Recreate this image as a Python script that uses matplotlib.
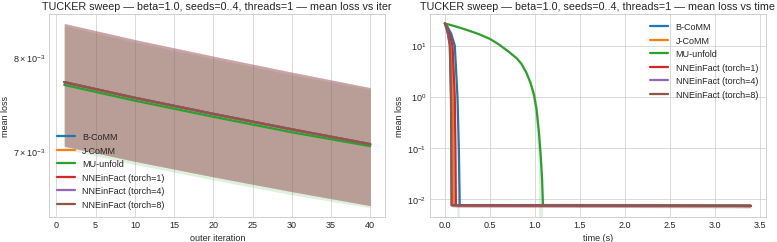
import matplotlib
matplotlib.use("Agg")
import matplotlib.pyplot as plt
import numpy as np

# ------ Data ------
names = ['B-CoMM', 'J-CoMM', 'MU-unfold',
         'NNEinFact (torch=1)', 'NNEinFact (torch=4)', 'NNEinFact (torch=8)']
colors = ['#1f77b4', '#ff7f0e', '#2ca02c', '#d62728', '#9467bd', '#8c564b']

# loss vs outer iteration (mean, std over seeds)
iters = [1, 10, 20, 30, 40]
iter_mean = {
    'B-CoMM':              [7.72e-3, 7.55e-3, 7.38e-3, 7.22e-3, 7.07e-3],
    'J-CoMM':              [7.72e-3, 7.55e-3, 7.38e-3, 7.22e-3, 7.07e-3],
    'MU-unfold':           [7.69e-3, 7.52e-3, 7.35e-3, 7.19e-3, 7.05e-3],
    'NNEinFact (torch=1)': [7.72e-3, 7.55e-3, 7.38e-3, 7.22e-3, 7.07e-3],
    'NNEinFact (torch=4)': [7.72e-3, 7.55e-3, 7.38e-3, 7.22e-3, 7.07e-3],
    'NNEinFact (torch=8)': [7.72e-3, 7.55e-3, 7.38e-3, 7.22e-3, 7.07e-3],
}
iter_std = [0.67e-3, 0.65e-3, 0.63e-3, 0.61e-3, 0.59e-3]

# loss vs wall time (mean, std over seeds)
time_t = {
    'B-CoMM':              [0, 0.03, 0.07, 0.11, 0.14, 0.155, 0.165, 3.4],
    'J-CoMM':              [0, 0.02, 0.045, 0.07, 0.088, 0.094, 0.098, 3.4],
    'MU-unfold':           [0, 0.125, 0.25, 0.375, 0.5, 0.6, 0.7, 0.8, 0.85, 0.9, 0.95,
                            0.99, 1.02, 1.045, 1.065, 1.08, 1.09, 3.4],
    'NNEinFact (torch=1)': [0, 0.025, 0.055, 0.085, 0.11, 0.117, 0.122, 3.4],
    'NNEinFact (torch=4)': [0, 0.018, 0.037, 0.055, 0.068, 0.072, 0.075, 3.4],
    'NNEinFact (torch=8)': [0, 0.018, 0.037, 0.055, 0.068, 0.072, 0.075, 3.4],
}
time_mean = {
    'B-CoMM':              [27, 23, 17, 10, 1.0, 0.1, 0.0076, 0.0074],
    'J-CoMM':              [27, 22, 16, 10, 1.0, 0.1, 0.0076, 0.0074],
    'MU-unfold':           [27, 23.5, 20, 16.8, 13.5, 10.5, 7.8, 5.6, 4.4, 3.1, 1.9,
                            1.1, 0.55, 0.2, 0.07, 0.025, 0.0076, 0.0074],
    'NNEinFact (torch=1)': [27, 22, 16, 10, 1.0, 0.1, 0.0076, 0.0074],
    'NNEinFact (torch=4)': [27, 22, 16, 10, 1.0, 0.1, 0.0076, 0.0074],
    'NNEinFact (torch=8)': [27, 22, 16, 10, 1.0, 0.1, 0.0076, 0.0074],
}
time_std = {
    'B-CoMM':              [0, 0.5, 0.5, 0.6, 0.5, 0.12, 0.0006, 0.0006],
    'J-CoMM':              [0, 0.4, 0.4, 0.5, 0.4, 0.08, 0.0006, 0.0006],
    'MU-unfold':           [0, 0.3, 0.3, 0.3, 0.3, 0.3, 0.3, 0.3, 0.3, 0.3, 0.3,
                            0.35, 0.35, 0.16, 0.08, 0.03, 0.0006, 0.0006],
    'NNEinFact (torch=1)': [0, 0.4, 0.4, 0.5, 0.4, 0.08, 0.0006, 0.0006],
    'NNEinFact (torch=4)': [0, 0.4, 0.4, 0.5, 0.4, 0.08, 0.0006, 0.0006],
    'NNEinFact (torch=8)': [0, 0.4, 0.4, 0.5, 0.4, 0.08, 0.0006, 0.0006],
}

# ------ Style ------
plt.style.use('seaborn-v0_8-whitegrid')
plt.rcParams['font.family'] = ['Liberation Sans', 'DejaVu Sans']
plt.rcParams['axes.unicode_minus'] = False

fig, (ax1, ax2) = plt.subplots(1, 2, figsize=(12, 3.75), dpi=777 / 12)
fig.subplots_adjust(left=0.063, right=0.986, top=0.938, bottom=0.103, wspace=0.131)

# ------ Plot 1: vs iteration ------
for name, c in zip(names, colors):
    m = np.array(iter_mean[name])
    s = np.array(iter_std)
    ax1.plot(iters, m, label=name, color=c, lw=2.5)
    ax1.fill_between(iters, m - s, m + s, color=c, alpha=0.15, lw=0)
ax1.set_yscale('log')
ax1.set_xlabel('outer iteration')
ax1.set_ylabel('mean loss')
ax1.set_title('TUCKER sweep \u2014 beta=1.0, seeds=0..4, threads=1 \u2014 mean loss vs iter')
ax1.legend(loc='lower left')

# ------ Plot 2: vs time ------
for name, c in zip(names, colors):
    t = np.array(time_t[name])
    m = np.array(time_mean[name])
    s = np.array(time_std[name])
    ax2.plot(t, m, label=name, color=c, lw=2.5)
    ax2.fill_between(t, m - s, m + s, color=c, alpha=0.15, lw=0)
ax2.set_yscale('log')
ax2.set_xlabel('time (s)')
ax2.set_ylabel('mean loss')
ax2.set_title('TUCKER sweep \u2014 beta=1.0, seeds=0..4, threads=1 \u2014 mean loss vs time')
ax2.legend(loc='upper right')

plt.savefig('out.png', dpi=777 / 12)
